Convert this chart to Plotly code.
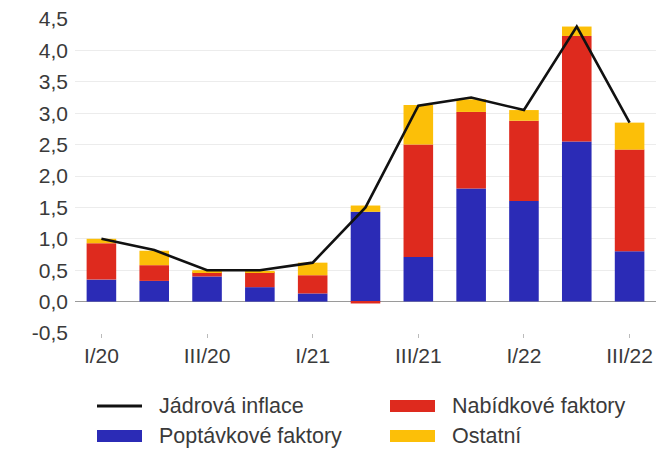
import plotly.graph_objects as go

quarters = ["I/20", "II/20", "III/20", "IV/20", "I/21", "II/21", "III/21", "IV/21", "I/22", "II/22", "III/22"]
tick_labels = ["I/20", "III/20", "I/21", "III/21", "I/22", "III/22"]
y_ticks = [-0.5, 0.0, 0.5, 1.0, 1.5, 2.0, 2.5, 3.0, 3.5, 4.0, 4.5]
y_tick_text = ["-0,5", "0,0", "0,5", "1,0", "1,5", "2,0", "2,5", "3,0", "3,5", "4,0", "4,5"]

poptavkove = [0.35, 0.33, 0.40, 0.23, 0.13, 1.43, 0.71, 1.80, 1.60, 2.55, 0.80]
nabidkove = [0.58, 0.25, 0.07, 0.24, 0.29, -0.03, 1.79, 1.22, 1.28, 1.68, 1.62]
ostatni = [0.07, 0.23, 0.03, 0.02, 0.20, 0.10, 0.63, 0.20, 0.17, 0.15, 0.43]
jadrova = [1.0, 0.82, 0.5, 0.5, 0.62, 1.5, 3.12, 3.25, 3.05, 4.38, 2.85]

BLUE = "#2b2bb6"
RED = "#de2a1e"
YELLOW = "#fcbf08"
TEXT = "#3a3a3a"

# plot area in pixels
L, R, T, B = 75, 656, 19, 333
W, H = 663, 449


def px(x):
    return (x - L) / (R - L)


def py(y):
    return (B - y) / (B - T)


fig = go.Figure()
fig.add_bar(x=quarters, y=poptavkove, name="Poptávkové faktory", marker_color=BLUE,
            marker_line_width=0, width=0.56, showlegend=False)
fig.add_bar(x=quarters, y=nabidkove, name="Nabídkové faktory", marker_color=RED,
            marker_line_width=0, width=0.56, showlegend=False)
fig.add_bar(x=quarters, y=ostatni, name="Ostatní", marker_color=YELLOW,
            marker_line_width=0, width=0.56, showlegend=False)
fig.add_scatter(x=quarters, y=jadrova, name="Jádrová inflace", mode="lines",
                line=dict(color="#111111", width=2.6), showlegend=False)

# custom two-column legend
legend_items = [
    ("line", "#111111", "Jádrová inflace", 97, 406),
    ("rect", BLUE, "Poptávkové faktory", 97, 436),
    ("rect", RED, "Nabídkové faktory", 390, 406),
    ("rect", YELLOW, "Ostatní", 390, 436),
]
shapes = []
annotations = []
for kind, color, label, x0, yc in legend_items:
    if kind == "line":
        shapes.append(dict(type="line", xref="paper", yref="paper",
                           x0=px(x0), x1=px(x0 + 45), y0=py(yc), y1=py(yc),
                           line=dict(color=color, width=3)))
    else:
        shapes.append(dict(type="rect", xref="paper", yref="paper",
                           x0=px(x0), x1=px(x0 + 45), y0=py(yc - 6), y1=py(yc + 6),
                           line=dict(width=0), fillcolor=color))
    annotations.append(dict(xref="paper", yref="paper", x=px(x0 + 60), y=py(yc),
                            xanchor="left", yanchor="middle", text=label, showarrow=False,
                            font=dict(size=21.5, color=TEXT)))

fig.update_layout(
    width=W, height=H,
    barmode="relative",
    separators=", ",
    plot_bgcolor="white", paper_bgcolor="white",
    margin=dict(l=L, r=W - R, t=T, b=H - B, autoexpand=False),
    font=dict(family="Liberation Sans, Arial, sans-serif", size=21, color=TEXT),
    showlegend=False,
    shapes=shapes,
    annotations=annotations,
    xaxis=dict(
        type="category", categoryorder="array", categoryarray=quarters,
        range=[-0.5, 10.5], automargin=False,
        tickmode="array", tickvals=tick_labels, ticktext=tick_labels,
        ticks="outside", ticklen=4, tickcolor="#bbbbbb", tickwidth=1,
        showgrid=False, showline=False, zeroline=False,
        tickfont=dict(size=21, color=TEXT),
    ),
    yaxis=dict(
        range=[-0.5, 4.5], automargin=False,
        tickmode="array", tickvals=y_ticks, ticktext=y_tick_text,
        showgrid=True, gridcolor="#ececec", gridwidth=1,
        zeroline=True, zerolinecolor="#9a9a9a", zerolinewidth=1.2,
        showline=False, ticks="", ticklabelstandoff=6,
        tickfont=dict(size=21, color=TEXT),
    ),
)

fig.write_html("out.html", config={"displayModeBar": False},
               post_script="document.body.style.margin='0';document.body.style.overflow='hidden';")
